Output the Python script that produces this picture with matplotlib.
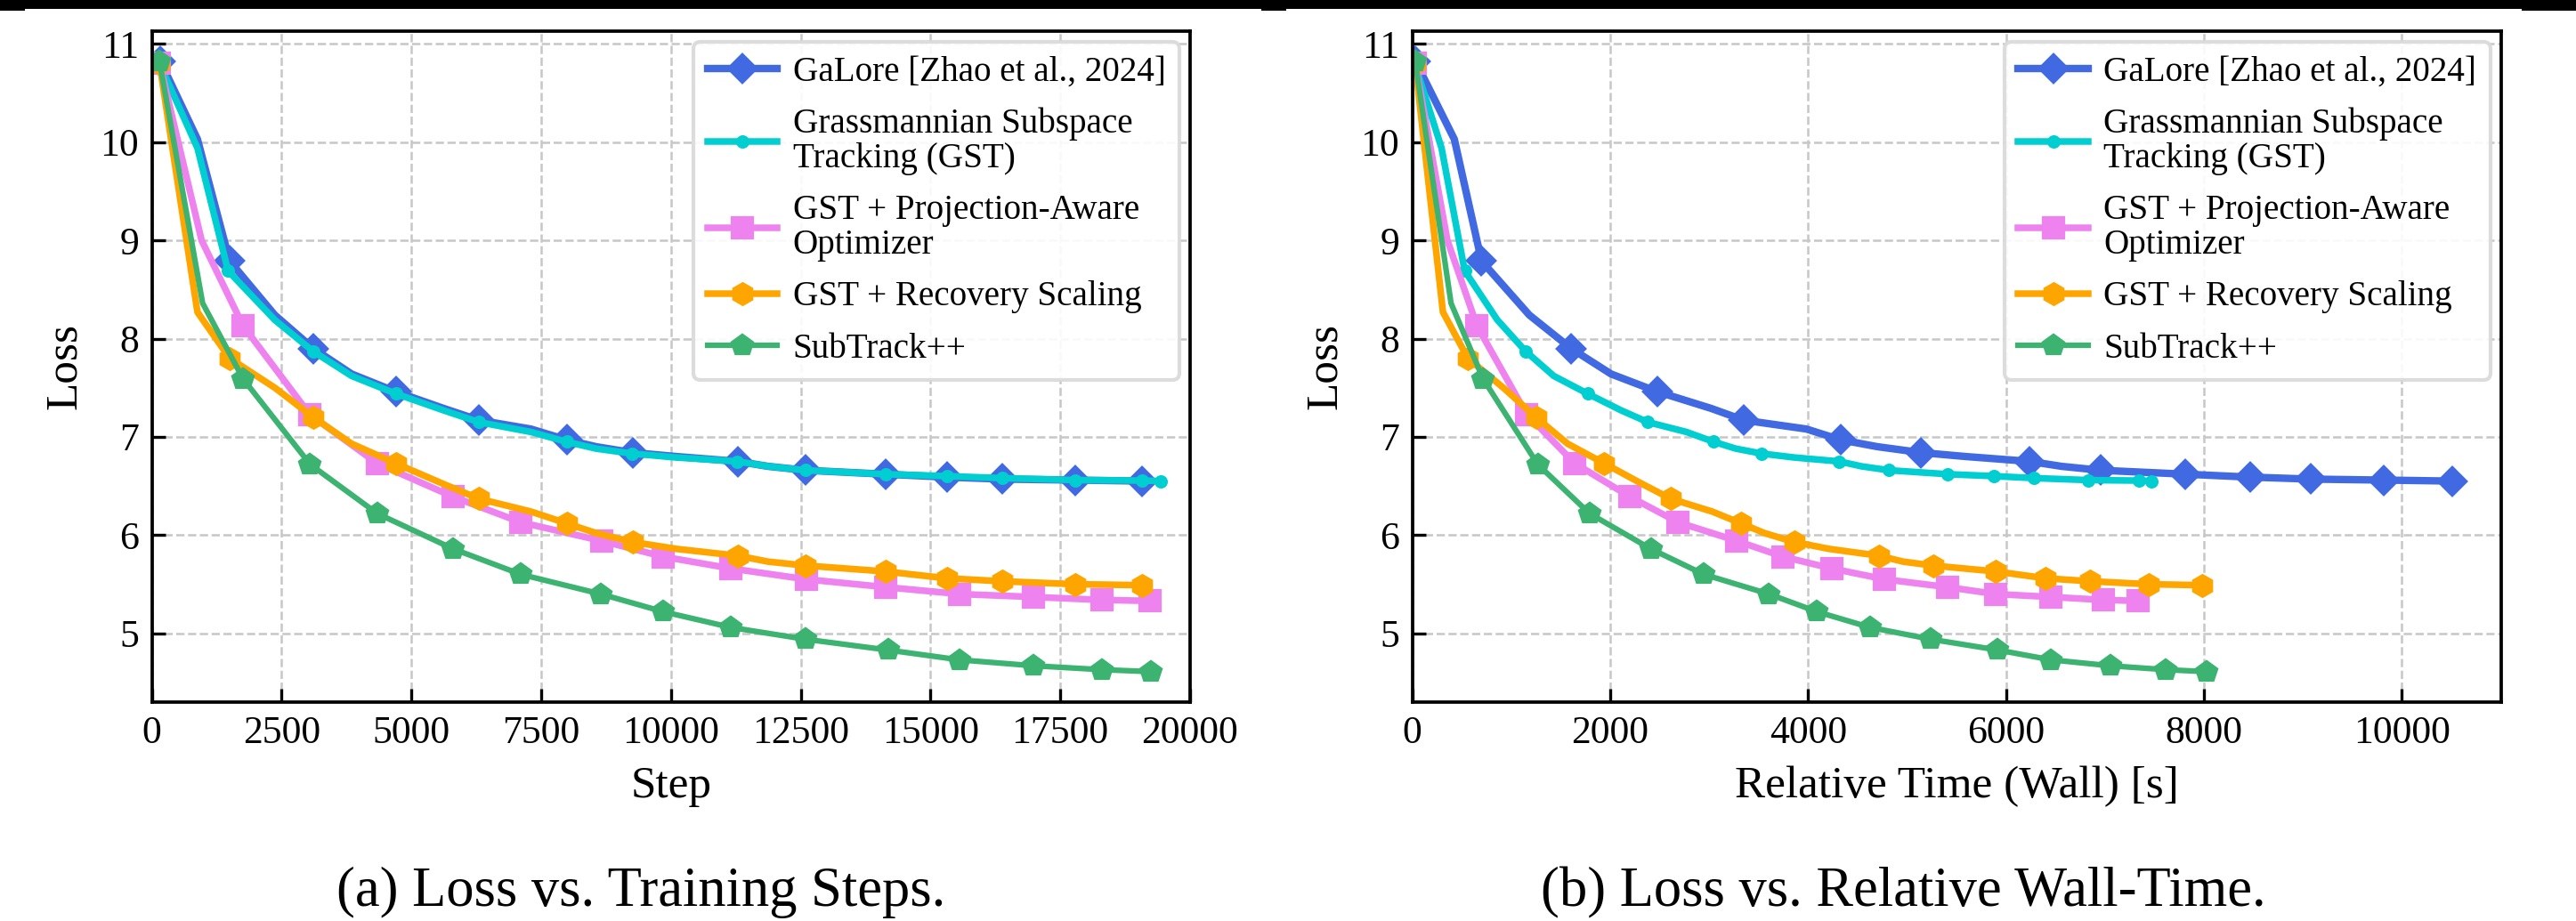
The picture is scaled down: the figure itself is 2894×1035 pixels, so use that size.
import matplotlib
matplotlib.use("Agg")
import matplotlib.pyplot as plt
from matplotlib.patches import Rectangle

plt.rcParams['font.family'] = ['Liberation Serif', 'DejaVu Serif']

# --- data ---
labels = [
    "GaLore [Zhao et al., 2024]",
    "Grassmannian Subspace\nTracking (GST)",
    "GST + Projection-Aware\nOptimizer",
    "GST + Recovery Scaling",
    "SubTrack++",
]

galore_step = [170, 880, 1500, 2370, 3110, 3850, 4700, 5620, 6300, 7300, 7990,
               8560, 9260, 10100, 11290, 11870, 12590, 14130, 15320, 16380, 17790, 19080]
galore_time = [34, 425, 700, 1183, 1605, 2009, 2477, 3019, 3350, 3982, 4327,
               4700, 5140, 5590, 6240, 6560, 6955, 7813, 8470, 9082, 9814, 10507]
galore_loss = [10.82, 10.03, 8.79, 8.24, 7.90, 7.64, 7.46, 7.29, 7.17, 7.08, 6.97,
               6.90, 6.84, 6.80, 6.75, 6.70, 6.66, 6.62, 6.59, 6.57, 6.56, 6.55]
galore_marks = [0, 2, 4, 6, 8, 10, 12, 14, 16, 17, 18, 19, 20, 21]

gst_step = [150, 880, 1470, 2370, 3110, 3850, 4700, 5620, 6300, 7300, 7990, 8560,
            9250, 10100, 11280, 11870, 12590, 14130, 15320, 16380, 17790, 19080, 19440]
gst_time = [25, 296, 530, 860, 1147, 1430, 1772, 2110, 2380, 2770, 3045, 3270,
            3530, 3860, 4315, 4540, 4818, 5410, 5880, 6286, 6826, 7340, 7466]
gst_loss = [10.80, 9.94, 8.69, 8.19, 7.87, 7.62, 7.44, 7.27, 7.15, 7.05, 6.95, 6.88,
            6.83, 6.79, 6.75, 6.70, 6.66, 6.62, 6.60, 6.58, 6.56, 6.555, 6.55]
gst_marks = [0, 2, 4, 6, 8, 10, 12, 14, 16, 17, 18, 19, 20, 21, 22]

pa_step = [150, 960, 1760, 3040, 4342, 5805, 7111, 8673, 9853, 11157, 12606,
           14140, 15560, 16980, 18300, 19220]
pa_time = [30, 355, 654, 1156, 1643, 2200, 2687, 3282, 3748, 4239, 4774,
           5410, 5895, 6455, 6982, 7336]
pa_loss = [10.80, 9.00, 8.13, 7.23, 6.73, 6.39, 6.13, 5.94, 5.78, 5.66, 5.55,
           5.47, 5.40, 5.37, 5.34, 5.33]
pa_marks = [0, 2, 3, 4, 5, 6, 7, 8, 9, 10, 11, 12, 13, 14, 15]

rs_step = [150, 880, 1500, 2370, 3110, 3850, 4700, 5620, 6300, 7300, 7990,
           8560, 9260, 10100, 11290, 11870, 12590, 14130, 15320, 16380, 17790, 19080]
rs_time = [30, 310, 562, 920, 1250, 1570, 1940, 2325, 2612, 3030, 3321,
           3560, 3858, 4210, 4716, 4960, 5261, 5895, 6403, 6851, 7440, 7985]
rs_loss = [10.80, 8.27, 7.80, 7.50, 7.20, 6.93, 6.73, 6.52, 6.37, 6.24, 6.12,
           6.02, 5.93, 5.86, 5.79, 5.73, 5.69, 5.63, 5.56, 5.53, 5.50, 5.49]
rs_marks = [0, 2, 4, 6, 8, 10, 12, 14, 16, 17, 18, 19, 20, 21]

st_step = [150, 980, 1760, 3050, 4342, 5805, 7111, 8650, 9853, 11157, 12590,
           14180, 15560, 16980, 18300, 19250]
st_time = [30, 392, 716, 1268, 1791, 2410, 2947, 3604, 4090, 4627, 5239,
           5917, 6455, 7052, 7612, 8023]
st_loss = [10.82, 8.36, 7.59, 6.72, 6.22, 5.86, 5.60, 5.40, 5.22, 5.06, 4.94,
           4.83, 4.73, 4.67, 4.63, 4.61]
st_marks = [0, 2, 3, 4, 5, 6, 7, 8, 9, 10, 11, 12, 13, 14, 15]

series = [
    # (steps, times, loss, markevery, color, marker, ms, lw)
    (galore_step, galore_time, galore_loss, galore_marks, "#4169E1", "D", 5.0, 2.0),
    (gst_step, gst_time, gst_loss, gst_marks, "#00CED1", "o", 2.6, 1.8),
    (pa_step, pa_time, pa_loss, pa_marks, "#EE82EE", "s", 5.2, 1.8),
    (rs_step, rs_time, rs_loss, rs_marks, "#FFA500", "h", 5.4, 1.8),
    (st_step, st_time, st_loss, st_marks, "#3CB371", "p", 5.4, 1.5),
]

W, H = 2894, 1035
fig = plt.figure(figsize=(W / 300, H / 300), dpi=300)

ax1 = fig.add_axes([170.5 / W, 1 - 789 / H, (1337 - 170.5) / W, (789 - 35) / H])
ax2 = fig.add_axes([1586.6 / W, 1 - 789 / H, (2809.6 - 1586.6) / W, (789 - 35) / H])


def style_axes(ax):
    ax.grid(True, linestyle="--", color="0.78", linewidth=0.6)
    ax.set_axisbelow(True)
    ax.tick_params(direction="in", length=3.5, width=0.8, labelsize=10.5,
                   top=False, right=False)
    for sp in ax.spines.values():
        sp.set_linewidth(0.9)
    ax.set_ylim(4.3, 11.13)
    ax.set_yticks([5, 6, 7, 8, 9, 10, 11])
    ax.set_ylabel("Loss", fontsize=12.3)


for (steps, times, loss, marks, color, mk, ms, lw), lab in zip(series, labels):
    ax1.plot(steps, loss, color=color, marker=mk, markersize=ms, linewidth=lw,
             markevery=marks, label=lab)
    ax2.plot(times, loss, color=color, marker=mk, markersize=ms, linewidth=lw,
             markevery=marks, label=lab)

style_axes(ax1)
style_axes(ax2)
ax1.set_xlim(0, 20000)
ax1.set_xticks([0, 2500, 5000, 7500, 10000, 12500, 15000, 17500, 20000])
ax1.set_xlabel("Step", fontsize=12.3)
ax2.set_xlim(0, 11000)
ax2.set_xticks([0, 2000, 4000, 6000, 8000, 10000])
ax2.set_xlabel("Relative Time (Wall) [s]", fontsize=12.3)

for ax in (ax1, ax2):
    leg = ax.legend(loc="upper right", fontsize=9.4, borderaxespad=0.3, borderpad=0.4,
                    labelspacing=0.55, handletextpad=0.45, handlelength=2.0,
                    edgecolor="0.85", framealpha=0.9)
    for t in leg.get_texts():
        t.set_linespacing(1.05)

fig.text(720 / W, 1 - 1018 / H, "(a) Loss vs. Training Steps.", fontsize=15,
         ha="center", va="baseline")
fig.text(2138 / W, 1 - 1018 / H, "(b) Loss vs. Relative Wall-Time.", fontsize=15,
         ha="center", va="baseline")

# rule cut off at the top of the page crop
fig.add_artist(Rectangle((0, 1 - 9.5 / H), 1, 9.5 / H, transform=fig.transFigure,
                         color="black", linewidth=0))
for x0, x1 in [(0, 28), (1417, 1445), (2833, 2894)]:
    fig.add_artist(Rectangle((x0 / W, 1 - 11.7 / H), (x1 - x0) / W, 2.5 / H,
                             transform=fig.transFigure, color="black", linewidth=0))

fig.savefig("out.png", dpi=300)
